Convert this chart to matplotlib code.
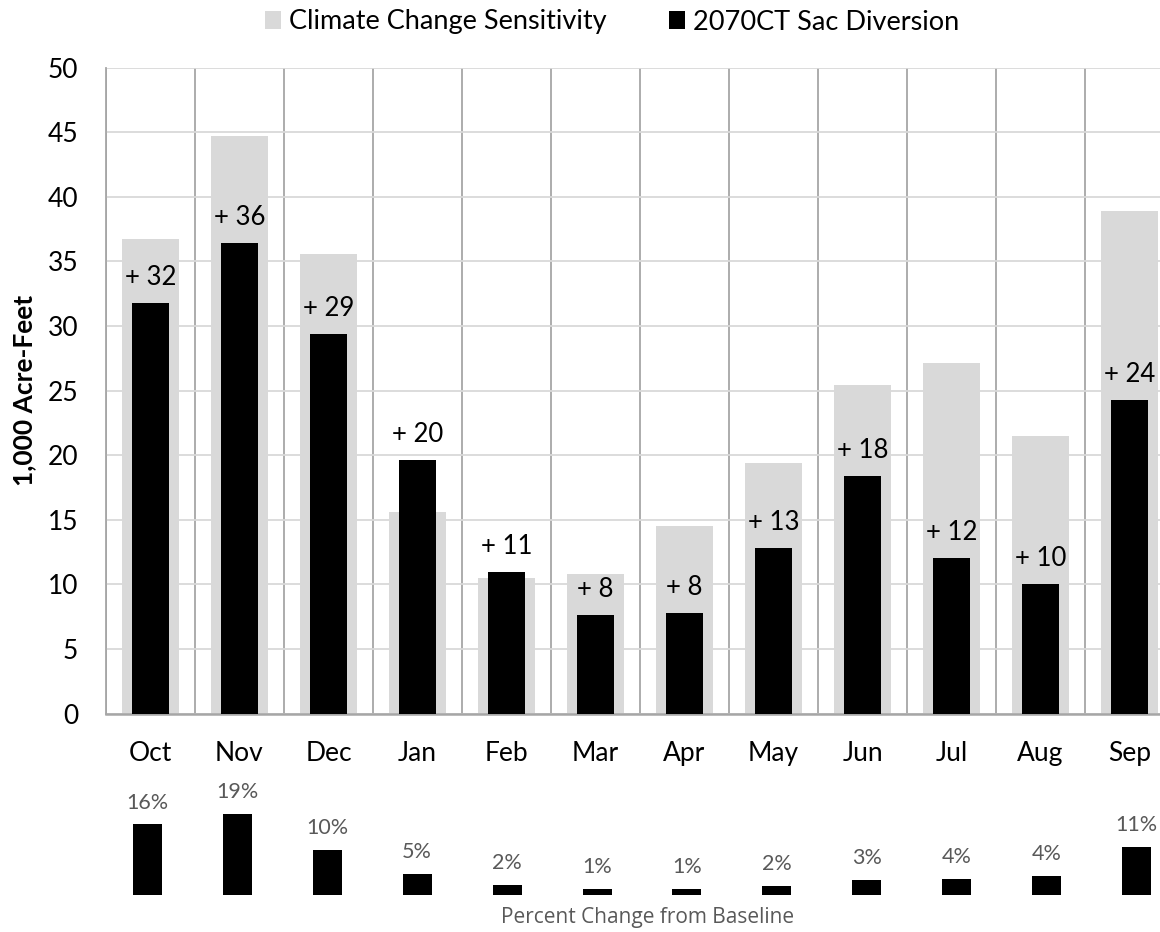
import matplotlib
matplotlib.use("Agg")
import matplotlib.pyplot as plt
from matplotlib.patches import Patch
import numpy as np

months = ["Oct", "Nov", "Dec", "Jan", "Feb", "Mar", "Apr", "May", "Jun", "Jul", "Aug", "Sep"]
sensitivity = [36.7, 44.7, 35.6, 15.6, 10.5, 10.8, 14.55, 19.4, 25.4, 27.1, 21.45, 38.9]
diversion = [31.8, 36.4, 29.4, 19.6, 10.95, 7.6, 7.8, 12.8, 18.35, 12.05, 10.0, 24.3]
pct_change = [16.4, 18.8, 10.4, 4.8, 2.4, 1.4, 1.4, 2.0, 3.4, 3.8, 4.4, 11.2]
yticks = [0, 5, 10, 15, 20, 25, 30, 35, 40, 45, 50]

plt.rcParams['font.family'] = ['Lato', 'DejaVu Sans']

W, H = 1160, 932
fig = plt.figure(figsize=(W / 100, H / 100), dpi=100)

def fx(px):
    return px / W

def fy(py):
    return 1 - py / H

# main axes
left, right, top, bottom = 106, 1174, 67.7, 713.5
ax = fig.add_axes([fx(left), fy(bottom), (right - left) / W, (bottom - top) / H])
x = np.arange(len(months))
ax.bar(x, sensitivity, width=0.64, color="#D9D9D9", zorder=2)
ax.bar(x, diversion, width=0.415, color="#000000", zorder=3)
for xi, v in zip(x, diversion):
    ax.annotate(f"+ {v:.0f}", (xi, v), xytext=(0, 13), textcoords="offset points",
                ha="center", va="baseline", fontsize=18.5, color="black", zorder=4)

ax.set_xlim(-0.5, len(months) - 0.5)
ax.set_ylim(0, 50)
ax.set_yticks(yticks)
ax.set_xticks(x)
ax.set_xticklabels(months)
ax.set_xticks(np.arange(-0.5, len(months), 1.0), minor=True)
ax.tick_params(axis="both", which="major", length=0, labelsize=19, colors="black")
ax.tick_params(axis="x", which="major", pad=20)
ax.tick_params(axis="y", which="major", pad=20)
ax.tick_params(axis="x", which="minor", length=0)
ax.set_axisbelow(True)
ax.grid(axis="y", which="major", color="#D9D9D9", linewidth=1.3)
ax.grid(axis="x", which="minor", color="#A6A6A6", linewidth=1.3)
ax.grid(axis="x", which="major", visible=False)
for s in ["top", "right"]:
    ax.spines[s].set_visible(False)
ax.spines["left"].set_color("#A6A6A6")
ax.spines["left"].set_linewidth(1.3)
ax.spines["bottom"].set_color("#A6A6A6")
ax.spines["bottom"].set_linewidth(1.8)

fig.text(fx(24), fy((top + bottom) / 2), "1,000 Acre-Feet", rotation=90, fontsize=19,
         fontweight="bold", ha="center", va="center", color="black")

# legend
handles = [Patch(facecolor="#D9D9D9", edgecolor="none", label="Climate Change Sensitivity"),
           Patch(facecolor="#000000", edgecolor="none", label="2070CT Sac Diversion")]
fig.legend(handles=handles, loc="center", bbox_to_anchor=(fx(612), fy(22)), ncol=2,
           frameon=False, fontsize=19.5, handlelength=0.6, handleheight=0.6,
           handletextpad=0.3, columnspacing=2.3)

# bottom percent panel
b_left, b_width, b_base, b_scale = 102.5, 1079, 895, 4.3
b_h = 100
ax2 = fig.add_axes([fx(b_left), fy(b_base), b_width / W, b_h / H])
ax2.bar(x, pct_change, width=0.323, color="#000000")
for xi, v in zip(x, pct_change):
    ax2.annotate(f"{v:.0f}%", (xi, v), xytext=(0, 11.5), textcoords="offset points",
                 ha="center", va="baseline", fontsize=15.5, color="#595959")
ax2.set_xlim(-0.5, len(months) - 0.5)
ax2.set_ylim(0, b_h / b_scale)
ax2.axis("off")

fig.text(fx(647.5), fy(918), "Percent Change from Baseline", ha="center", va="center",
         fontsize=15, color="#595959", family=["Open Sans", "DejaVu Sans"])

fig.savefig("out.png", dpi=100)
